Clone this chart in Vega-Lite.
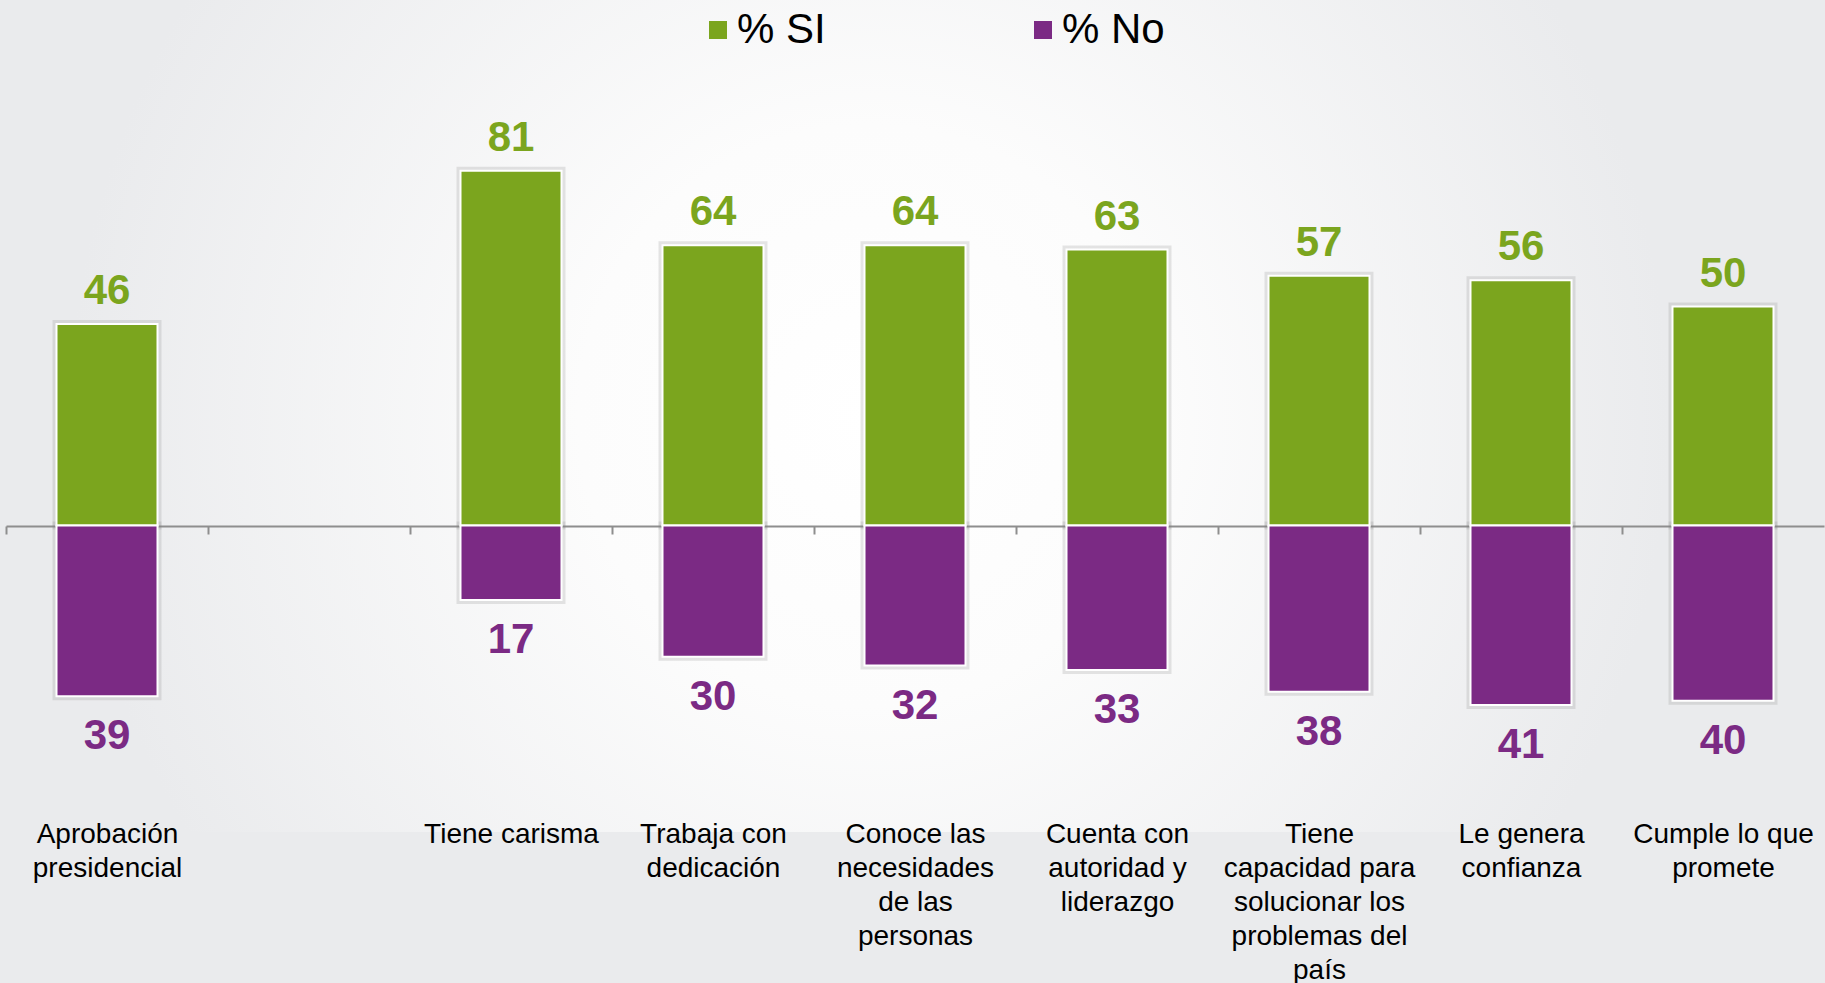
{
  "$schema": "https://vega.github.io/schema/vega-lite/v6.json",
  "width": 1818,
  "height": 832,
  "autosize": {"type": "none"},
  "padding": {"left": 6, "top": 0, "right": 1, "bottom": 151},
  "background": "#EAEBED",
  "config": {
    "view": {
      "stroke": null,
      "fill": {
        "gradient": "radial",
        "x1": 0.475, "y1": 0.5, "r1": 0,
        "x2": 0.475, "y2": 0.5, "r2": 0.5,
        "stops": [
          {"offset": 0, "color": "#FFFFFF"},
          {"offset": 0.32, "color": "#FCFCFC"},
          {"offset": 0.88, "color": "#EAEBED"},
          {"offset": 1, "color": "#EAEBED"}
        ]
      }
    },
    "font": "Liberation Sans"
  },
  "data": {
    "values": [
      {"cat": "Aprobación|presidencial", "serie": "% SI", "pct": 46},
      {"cat": "Aprobación|presidencial", "serie": "% No", "pct": 39},
      {"cat": "Tiene carisma", "serie": "% SI", "pct": 81},
      {"cat": "Tiene carisma", "serie": "% No", "pct": 17},
      {"cat": "Trabaja con|dedicación", "serie": "% SI", "pct": 64},
      {"cat": "Trabaja con|dedicación", "serie": "% No", "pct": 30},
      {"cat": "Conoce las|necesidades|de las|personas", "serie": "% SI", "pct": 64},
      {"cat": "Conoce las|necesidades|de las|personas", "serie": "% No", "pct": 32},
      {"cat": "Cuenta con|autoridad y|liderazgo", "serie": "% SI", "pct": 63},
      {"cat": "Cuenta con|autoridad y|liderazgo", "serie": "% No", "pct": 33},
      {"cat": "Tiene|capacidad para|solucionar los|problemas del|país", "serie": "% SI", "pct": 57},
      {"cat": "Tiene|capacidad para|solucionar los|problemas del|país", "serie": "% No", "pct": 38},
      {"cat": "Le genera|confianza", "serie": "% SI", "pct": 56},
      {"cat": "Le genera|confianza", "serie": "% No", "pct": 41},
      {"cat": "Cumple lo que|promete", "serie": "% SI", "pct": 50},
      {"cat": "Cumple lo que|promete", "serie": "% No", "pct": 40}
    ]
  },
  "transform": [
    {"calculate": "datum.serie === '% No' ? -datum.pct : datum.pct", "as": "v"}
  ],
  "encoding": {
    "x": {
      "field": "cat",
      "type": "nominal",
      "scale": {
        "domain": [
          "Aprobación|presidencial",
          " ",
          "Tiene carisma",
          "Trabaja con|dedicación",
          "Conoce las|necesidades|de las|personas",
          "Cuenta con|autoridad y|liderazgo",
          "Tiene|capacidad para|solucionar los|problemas del|país",
          "Le genera|confianza",
          "Cumple lo que|promete"
        ],
        "paddingInner": 0.5,
        "paddingOuter": 0.25
      },
      "axis": {
        "title": null,
        "orient": "bottom",
        "offset": -306,
        "domainColor": "#8E8E8E",
        "domainWidth": 2,
        "tickColor": "#8E8E8E",
        "tickWidth": 2,
        "tickSize": 8,
        "tickOffset": -101,
        "labelOffset": 101,
        "labelPadding": 286,
        "labelFontSize": 28,
        "labelColor": "#000000",
        "labelLineHeight": 34,
        "labelAngle": 0,
        "labelLimit": 0,
        "labelOverlap": false,
        "labelExpr": "split(datum.label, '|')",
        "zindex": 0
      }
    },
    "y": {
      "field": "v",
      "type": "quantitative",
      "scale": {"domain": [-70, 120], "nice": false},
      "axis": null
    }
  },
  "layer": [
    {
      "mark": {"type": "bar", "fill": null, "stroke": "#808080", "strokeWidth": 8, "strokeOpacity": 0.2},
      "encoding": {"y2": {"datum": 0}}
    },
    {
      "mark": {"type": "bar", "stroke": "#FFFFFF", "strokeWidth": 2},
      "encoding": {
        "y2": {"datum": 0},
        "color": {
          "field": "serie",
          "type": "nominal",
          "scale": {"domain": ["% SI", "% No"], "range": ["#7BA51E", "#7B2A84"]},
          "legend": {
            "title": null,
            "orient": "none",
            "legendX": 691,
            "legendY": 9,
            "direction": "horizontal",
            "symbolType": "square",
            "symbolSize": 324,
            "symbolStrokeWidth": 0,
            "symbolOpacity": 1,
            "labelFontSize": 42,
            "labelColor": "#000000",
            "labelOffset": -2,
            "columnPadding": 196,
            "padding": 0
          }
        }
      }
    },
    {
      "transform": [{"filter": "datum.serie === '% SI'"}],
      "mark": {"type": "text", "baseline": "alphabetic", "dy": -20, "fontSize": 42, "fontWeight": "bold", "color": "#7BA51E"},
      "encoding": {
        "text": {"field": "pct", "type": "quantitative"}
      }
    },
    {
      "transform": [{"filter": "datum.serie === '% No'"}],
      "mark": {"type": "text", "baseline": "top", "dy": 20, "fontSize": 42, "fontWeight": "bold", "color": "#7B2A84"},
      "encoding": {
        "text": {"field": "pct", "type": "quantitative"}
      }
    }
  ]
}
